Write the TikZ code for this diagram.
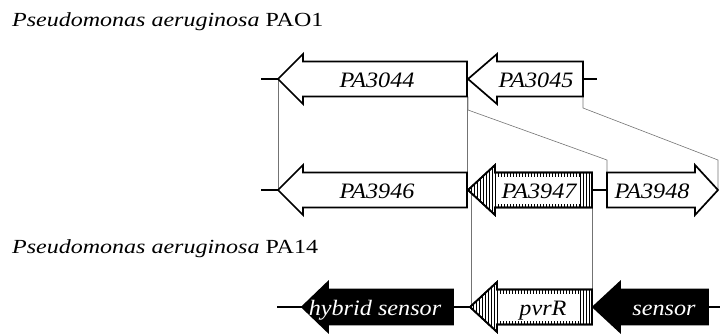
\documentclass[tikz,border=0pt]{standalone}
\usepackage{graphicx}
\usepackage{fontspec}
\setmainfont{Liberation Serif}
\newcommand\ttltext[2]{\fontsize{20}{24}\selectfont\scalebox{1.2}[1]{\itshape #1\/ \upshape #2}}
\newcommand\gtext[1]{\fontsize{22}{26}\selectfont\scalebox{1.1}[1]{\itshape #1}}
\begin{document}
\begin{tikzpicture}[x=1pt,y=-1pt,
  gene/.style={draw=black,line width=1.7pt,fill=white,line join=miter},
  blackgene/.style={draw=black,line width=1.7pt,fill=black,line join=miter},
  stub/.style={line width=1.7pt},
  homol/.style={draw=black!55,line width=0.6pt},
  hatch/.style={line width=0.7pt},
  glabel/.style={anchor=base,inner sep=0pt},
  wlabel/.style={glabel,text=white},
  ttl/.style={anchor=base west,inner sep=0pt}]
\useasboundingbox (0,0) rectangle (720,333);

% left-pointing gene: tip, head base, right end, centre y
\newcommand\lgene[5][gene]{%
  \draw[#1] (#2,#5) -- (#3,#5-25) -- (#3,#5-17.5) -- (#4,#5-17.5) -- (#4,#5+17.5) -- (#3,#5+17.5) -- (#3,#5+25) -- cycle;}
% hatched left gene (pvrR type)
\newcommand\hgene[4]{%
  \lgene{#1}{#2}{#3}{#4}
  \pgfmathtruncatemacro\ntick{(#3-12-#2)/3}
  \draw[hatch]
    \foreach \k in {1,...,9} {(#1+3*\k,{#4-25*3*\k/(#2-#1)}) -- (#1+3*\k,{#4+25*3*\k/(#2-#1)})}
    \foreach \k in {1,...,\ntick} {(#2+3*\k,#4-17.5) -- (#2+3*\k,#4-13.5) (#2+3*\k,#4+17.5) -- (#2+3*\k,#4+13.5)}
    \foreach \k in {1,...,4} {(#3-3*\k,#4-17.5) -- (#3-3*\k,#4+17.5)};
  \lgene[draw=black,line width=1.7pt]{#1}{#2}{#3}{#4}}

% anchor coordinates
\coordinate (a44tip) at (278,79);
\coordinate (a44r) at (467,79);
\coordinate (a45l) at (468,96.5);
\coordinate (a45r) at (583,96.5);
\coordinate (b46tip) at (278,190);
\coordinate (b46r) at (467,190);
\coordinate (b48l) at (607,172.5);
\coordinate (b48tip) at (718,190);
\coordinate (b47l) at (471,190);
\coordinate (b47r) at (592,207.5);
\coordinate (cRl) at (471,307);
\coordinate (cRr) at (592,289);

% homology lines
\draw[homol] (a44tip) -- (b46tip);
\draw[homol] (a44r) -- (b46r);
\draw[homol] (a45l) -- ++(0,13.5) -- (607,160) -- (b48l);
\draw[homol] (a45r) -- ++(0,11.5) -- (718,160) -- (b48tip);
\draw[homol] (b47l) -- (cRl);
\draw[homol] (b47r) -- (cRr);

% PAO1 locus 1
\draw[stub] (261,79) -- (278,79) (583,79) -- (597,79);
\lgene{278}{303}{467}{79}
\lgene{468}{497}{583}{79}
\node[glabel] (g3044) at (377,87) {\gtext{PA3044}};
\node[glabel] (g3045) at (536,87) {\gtext{PA3045}};

% PAO1 locus 2
\draw[stub] (261,190) -- (278,190) (592,190) -- (607,190);
\lgene{278}{303}{467}{190}
\hgene{468}{495}{592}{190}
\draw[gene] (607,172.5) -- (695,172.5) -- (695,165) -- (718,190) -- (695,215) -- (695,207.5) -- (607,207.5) -- cycle;
\node[glabel] (g3946) at (377,198) {\gtext{PA3946}};
\node[glabel] (g3947) at (539,198) {\gtext{PA3947}};
\node[glabel] (g3948) at (652,198) {\gtext{PA3948}};

% PA14 locus
\draw[stub] (277,307) -- (302,307) (453,307) -- (470,307) (708,307) -- (720,307);
\lgene[blackgene]{302}{328}{453}{307}
\hgene{470}{497}{592}{307}
\lgene[blackgene]{593}{620}{708}{307}
\node[wlabel] (ghyb) at (375,315) {\gtext{hybrid sensor}};
\node[glabel] (gpvr) at (543,315) {\gtext{pvrR}};
\node[wlabel] (gsen) at (664,315) {\gtext{sensor}};

% titles
\node[ttl] (t1) at (12,26) {\ttltext{Pseudomonas aeruginosa}{PAO1}};
\node[ttl] (t2) at (12,253) {\ttltext{Pseudomonas aeruginosa}{PA14}};
\end{tikzpicture}
\end{document}
